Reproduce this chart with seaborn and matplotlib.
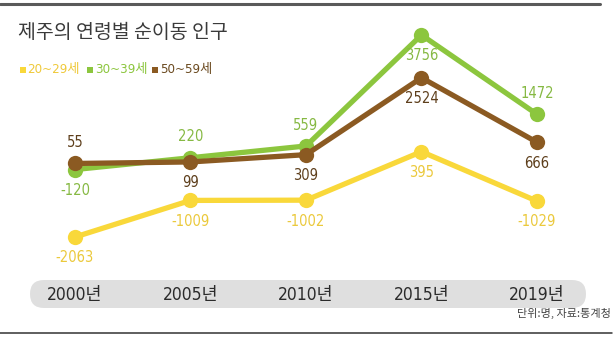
import numpy as np
import pandas as pd
import seaborn as sns
import matplotlib.pyplot as plt
import matplotlib.transforms as mtrans
from matplotlib.patches import FancyBboxPatch, Rectangle
from matplotlib.lines import Line2D

# ---------------- data ----------------
years = ['2000년', '2005년', '2010년', '2015년', '2019년']
series = ['20~29세', '30~39세', '50~59세']
age20 = [-2063, -1009, -1002, 395, -1029]
age30 = [-120, 220, 559, 3756, 1472]
age50 = [55, 99, 309, 2524, 666]
title = '제주의 연령별 순이동 인구'
source = '단위:명, 자료:통계청'

# ---------------- styles ----------------
line_colors = ['#f9d83a', '#8cc63e', '#8b5a22']
text_colors = ['#ebc93c', '#86b943', '#5e3f1c']
legend_colors = ['#efc93a', '#8cc63e', '#6b4a20']
label_side = [[-1, -1, -1, -1, -1],
              [-1, 1, 1, -1, 1],
              [1, -1, -1, -1, -1]]

sns.set_theme(style='white')
narrow = ['DejaVu Sans', 'Noto Sans CJK KR']
plt.rcParams['font.family'] = narrow

W, H = 616, 338
fig = plt.figure(figsize=(W / 100, H / 100), dpi=100)
fig.patch.set_facecolor('white')
ax = fig.add_axes([0, 0, 1, 1])
ax.set_axis_off()

values = [age20, age30, age50]
df = pd.DataFrame({
    'year': years * 3,
    'value': age20 + age30 + age50,
    'series': np.repeat(series, len(years)),
})
sns.lineplot(data=df, x='year', y='value', hue='series', hue_order=series,
             palette=line_colors, marker='o', markersize=11,
             markeredgewidth=0, linewidth=3.8, legend=False, sort=False, ax=ax)

# layout of plotting area (pixels)
x0_px, dx_px = 75, 115.5
top_px, bot_px = 35, 237
ax.set_xlim(-x0_px / dx_px, (W - x0_px) / dx_px)
vmax = max(max(v) for v in values)
vmin = min(min(v) for v in values)
s = (bot_px - top_px) / (vmax - vmin)
ax.set_ylim(vmin - (H - bot_px) / s, vmax + top_px / s)

# value labels
for vals, sides, tc in zip(values, label_side, text_colors):
    for i, (v, sd) in enumerate(zip(vals, sides)):
        ax.annotate(str(v), (i, v), xytext=(0, sd * 15), textcoords='offset points',
                    ha='center', va='center', color=tc, fontsize=10.5,
                    family=narrow, fontstretch='condensed')

# bottom band with year labels
band = FancyBboxPatch((0.30, (H - 308) / 100), 5.56, 0.28,
                      boxstyle='round,pad=0,rounding_size=0.14',
                      transform=fig.dpi_scale_trans, facecolor='#dfdfdf',
                      edgecolor='none', zorder=0)
fig.add_artist(band)
trans = mtrans.blended_transform_factory(ax.transData, fig.transFigure)
for i, yr in enumerate(years):
    ax.text(i, 1 - 295 / H, yr, transform=trans, ha='center', va='center',
            fontsize=12.5, color='#2b2b2b', family=narrow, fontstretch='condensed')

# title
fig.text(18 / W, 1 - 33 / H, title, fontsize=14, color='#3a3a3a', va='center',
         family=['Noto Sans CJK KR'], fontweight='medium')

# legend
sq_x = [20, 87, 152]
tx_x = [27, 95, 160]
for lab, c, tc, sx, tx in zip(series, line_colors, legend_colors, sq_x, tx_x):
    fig.add_artist(Rectangle((sx / 100, (H - 73) / 100), 0.06, 0.06,
                             transform=fig.dpi_scale_trans, facecolor=c, edgecolor='none'))
    fig.text(tx / W, 1 - 70 / H, lab, fontsize=9.5, color=tc, va='center', ha='left',
             family=narrow, fontstretch='condensed')

# source note
fig.text(611 / W, 1 - 313 / H, source, fontsize=8, color='#444444', ha='right', va='center',
         family=['Noto Sans CJK KR'])

# rules
fig.add_artist(Line2D([0, 600 / W], [1 - 4 / H] * 2, transform=fig.transFigure,
                      color='#5a5a5a', lw=2.2))
fig.add_artist(Line2D([0, 612 / W], [1 - 333 / H] * 2, transform=fig.transFigure,
                      color='#333333', lw=1.1))

fig.savefig('out.png', dpi=100, facecolor='white')
